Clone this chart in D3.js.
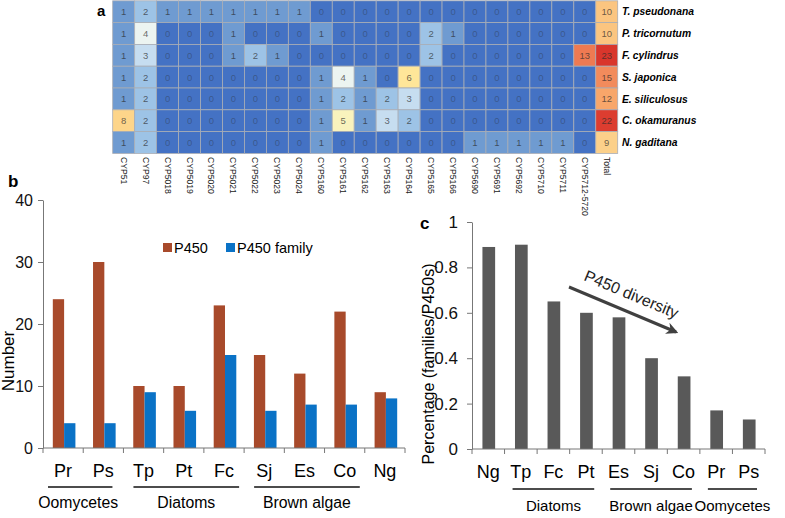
<!DOCTYPE html>
<html><head><meta charset="utf-8">
<script src="https://cdnjs.cloudflare.com/ajax/libs/d3/7.8.5/d3.min.js"></script>
<style>
body{margin:0;background:#fff;}
svg{font-family:"Liberation Sans",Arial,sans-serif;display:block;}
</style></head><body>
<svg id="c" width="785" height="518"></svg>
<script>
// ---------- Panel a data ----------
const cypFamilies = ["CYP51","CYP97","CYP5018","CYP5019","CYP5020","CYP5021","CYP5022","CYP5023","CYP5024","CYP5160","CYP5161","CYP5162","CYP5163","CYP5164","CYP5165","CYP5166","CYP5690","CYP5691","CYP5692","CYP5710","CYP5711","CYP5712-5720","Total"];
const species = ["T. pseudonana","P. tricornutum","F. cylindrus","S. japonica","E. siliculosus","C. okamuranus","N. gaditana"];
const tPseudonana  = [1,2,1,1,1,1,1,1,1,0,0,0,0,0,0,0,0,0,0,0,0,0,10];
const pTricornutum = [1,4,0,0,0,1,0,0,0,1,0,0,0,0,2,1,0,0,0,0,0,0,10];
const fCylindrus   = [1,3,0,0,0,1,2,1,0,0,0,0,0,0,2,0,0,0,0,0,0,13,23];
const sJaponica    = [1,2,0,0,0,0,0,0,0,1,4,1,0,6,0,0,0,0,0,0,0,0,15];
const eSiliculosus = [1,2,0,0,0,0,0,0,0,1,2,1,2,3,0,0,0,0,0,0,0,0,12];
const cOkamuranus  = [8,2,0,0,0,0,0,0,0,1,5,1,3,2,0,0,0,0,0,0,0,0,22];
const nGaditana    = [1,2,0,0,0,0,0,0,0,1,0,0,0,0,0,0,1,1,1,1,1,0,9];
const heatRows = [tPseudonana,pTricornutum,fCylindrus,sJaponica,eSiliculosus,cOkamuranus,nGaditana];

// ---------- Panel b data ----------
const bCategories = ["Pr","Ps","Tp","Pt","Fc","Sj","Es","Co","Ng"];
const p450Counts   = [24,30,10,10,23,15,12,22,9];
const familyCounts = [4,4,9,6,15,6,7,7,8];
const bSeries = ["P450","P450 family"];
const bTicks = [0,10,20,30,40];
const bGroups = [{name:"Oomycetes",from:"Pr",to:"Ps"},{name:"Diatoms",from:"Tp",to:"Fc"},{name:"Brown algae",from:"Sj",to:"Co"}];

// ---------- Panel c data ----------
const cCategories = ["Ng","Tp","Fc","Pt","Es","Sj","Co","Pr","Ps"];
const diversity = [0.89,0.90,0.65,0.60,0.58,0.40,0.32,0.17,0.13];
const cTicks = [0,0.2,0.4,0.6,0.8,1];
const cGroups = [{name:"Diatoms",from:"Tp",to:"Pt"},{name:"Brown algae",from:"Es",to:"Co"},{name:"Oomycetes",from:"Pr",to:"Ps"}];

const svg = d3.select("#c");

// ================= Panel a: heatmap =================
const hx = d3.scaleBand().domain(cypFamilies).range([112.7,617.7]);
const hy = d3.scaleBand().domain(species).range([0.8,153.4]);
const heatColor = d3.scaleLinear()
  .domain([0,1,2,3,4,5,6,8,9,10,12,13,15,22,23])
  .range(["#4472c4","#6f9bd1","#9dc3e6","#c6ddf0","#ecf4f1","#f9f3bd","#ffe699","#fdd58a","#fcd08a","#fbc580","#f8a66a","#ee7a52","#f28b5c","#dc3d30","#d9362c"]);
const cells = [];
species.forEach((s,i)=>cypFamilies.forEach((c,j)=>cells.push({s,c,v:heatRows[i][j]})));
const ga = svg.append("g");
ga.selectAll("rect").data(cells).join("rect")
  .attr("x",d=>hx(d.c)).attr("y",d=>hy(d.s))
  .attr("width",hx.bandwidth()).attr("height",hy.bandwidth())
  .attr("fill",d=>heatColor(d.v)).attr("stroke","#a9adb5").attr("stroke-width",0.8);
ga.selectAll("text.v").data(cells).join("text").attr("class","v")
  .attr("x",d=>hx(d.c)+hx.bandwidth()/2).attr("y",d=>hy(d.s)+hy.bandwidth()/2)
  .attr("dy","0.36em").attr("text-anchor","middle").attr("font-size",9.5)
  .attr("fill","#2a2a2a").attr("fill-opacity",d=>d.v===0?0.38:0.7)
  .text(d=>d.v);
ga.selectAll("text.sp").data(species).join("text").attr("class","sp")
  .attr("x",622).attr("y",d=>hy(d)+hy.bandwidth()/2).attr("dy","0.36em")
  .attr("font-size",10.3).attr("font-weight","bold").attr("font-style","italic")
  .text(d=>d);
ga.selectAll("text.cx").data(cypFamilies).join("text").attr("class","cx")
  .attr("transform",d=>`translate(${hx(d)+hx.bandwidth()/2},157) rotate(90)`)
  .attr("dy","0.35em").attr("font-size",8.6).attr("fill","#222")
  .text(d=>d);
svg.append("text").attr("x",97).attr("y",16).attr("font-size",15).attr("font-weight","bold").text("a");

// ================= Panel b =================
const bx = d3.scaleBand().domain(bCategories).range([43,405]);
const bx1 = d3.scaleBand().domain(bSeries).range([1,bx.bandwidth()+1]).paddingOuter(0.78);
const by = d3.scaleLinear().domain([0,40]).range([448,200]);
const bColor = d3.scaleOrdinal().domain(bSeries).range(["#a84a2b","#0a72c6"]);
const gb = svg.append("g");
const bData = [];
bCategories.forEach((c,i)=>{bData.push({c,s:"P450",v:p450Counts[i]});bData.push({c,s:"P450 family",v:familyCounts[i]});});
gb.selectAll("rect").data(bData).join("rect")
  .attr("x",d=>bx(d.c)+bx1(d.s)).attr("width",bx1.bandwidth())
  .attr("y",d=>by(d.v)).attr("height",d=>by(0)-by(d.v))
  .attr("fill",d=>bColor(d.s));
const byAxis = gb.append("g").attr("transform","translate(43,0)")
  .call(d3.axisLeft(by).tickValues(bTicks).tickSize(5).tickPadding(5).tickSizeOuter(0));
byAxis.selectAll("text").attr("font-size",16).attr("fill","#111").attr("font-family","Liberation Sans, Arial, sans-serif");
byAxis.selectAll("line,path").attr("stroke","#777");
gb.append("line").attr("x1",43).attr("x2",405).attr("y1",448).attr("y2",448).attr("stroke","#777");
const bBounds = bCategories.map(c=>bx(c)).concat([bx.range()[1]]);
gb.selectAll("line.bt").data(bBounds).join("line").attr("class","bt")
  .attr("x1",d=>d).attr("x2",d=>d).attr("y1",448).attr("y2",453).attr("stroke","#777");
gb.selectAll("text.bl").data(bCategories).join("text").attr("class","bl")
  .attr("x",d=>bx(d)+bx.bandwidth()/2).attr("y",477).attr("text-anchor","middle")
  .attr("font-size",18).text(d=>d);
bGroups.forEach((g,i)=>{
  const x1 = bx(g.from)+(i===0?5:10), x2 = bx(g.to)+bx.bandwidth()-(i===0?11:5);
  gb.append("line").attr("x1",x1).attr("x2",x2).attr("y1",487).attr("y2",487).attr("stroke","#111").attr("stroke-width",1.5);
  gb.append("text").attr("x",(x1+x2)/2-(i===0?2:0)).attr("y",508).attr("text-anchor","middle").attr("font-size",15.8).text(g.name);
});
gb.append("text").attr("transform","translate(14,361) rotate(-90)").attr("text-anchor","middle").attr("font-size",17).text("Number");
svg.append("text").attr("x",8).attr("y",187).attr("font-size",17).attr("font-weight","bold").text("b");
const legX = [163,226];
bSeries.forEach((s,i)=>{
  gb.append("rect").attr("x",legX[i]).attr("y",243).attr("width",9).attr("height",9).attr("fill",bColor(s));
  gb.append("text").attr("x",legX[i]+11).attr("y",252.5).attr("font-size",14.5).text(s);
});

// ================= Panel c =================
const cx = d3.scaleBand().domain(cCategories).range([472,765]);
const cy = d3.scaleLinear().domain([0,1]).range([449,222]);
const gc = svg.append("g");
const barW = 12.7;
gc.selectAll("rect").data(cCategories).join("rect")
  .attr("x",d=>cx(d)+cx.bandwidth()/2-barW/2+0.5).attr("width",barW)
  .attr("y",(d,i)=>cy(diversity[i])).attr("height",(d,i)=>cy(0)-cy(diversity[i]))
  .attr("fill","#595959");
const cyAxis = gc.append("g").attr("transform","translate(472,0)")
  .call(d3.axisLeft(cy).tickValues(cTicks).tickFormat(d3.format("~g")).tickSize(5).tickPadding(9).tickSizeOuter(0));
cyAxis.selectAll("text").attr("font-size",17).attr("fill","#111").attr("font-family","Liberation Sans, Arial, sans-serif");
cyAxis.selectAll("line,path").attr("stroke","#777");
gc.append("line").attr("x1",472).attr("x2",765).attr("y1",449).attr("y2",449).attr("stroke","#777");
const cBounds = cCategories.map(c=>cx(c)).concat([cx.range()[1]]);
gc.selectAll("line.ct").data(cBounds).join("line").attr("class","ct")
  .attr("x1",d=>d).attr("x2",d=>d).attr("y1",449).attr("y2",454).attr("stroke","#777");
gc.selectAll("text.cl").data(cCategories).join("text").attr("class","cl")
  .attr("x",d=>cx(d)+cx.bandwidth()/2).attr("y",478).attr("text-anchor","middle")
  .attr("font-size",18).text(d=>d);
cGroups.forEach(g=>{
  const x1 = cx(g.from)+8, x2 = cx(g.to)+cx.bandwidth()-8;
  gc.append("line").attr("x1",x1).attr("x2",x2).attr("y1",489).attr("y2",489).attr("stroke","#111").attr("stroke-width",1.5);
  const t = gc.append("text").attr("y",511).attr("text-anchor","middle").attr("font-size",15).text(g.name);
  const w = t.node().getComputedTextLength();
  t.attr("x",Math.min((x1+x2)/2, 783-w/2));
});
gc.append("text").attr("transform","translate(434,364) rotate(-90)").attr("text-anchor","middle").attr("font-size",16).text("Percentage (families/P450s)");
svg.append("text").attr("x",420).attr("y",229).attr("font-size",17).attr("font-weight","bold").text("c");
const defs = svg.append("defs");
defs.append("marker").attr("id","ah").attr("viewBox","0 0 10 10").attr("refX",8).attr("refY",5)
  .attr("markerWidth",4).attr("markerHeight",4).attr("orient","auto")
  .append("path").attr("d","M0,0 L10,5 L0,10 L3,5 Z").attr("fill","#404040");
gc.append("line").attr("x1",569).attr("y1",287).attr("x2",676).attr("y2",332)
  .attr("stroke","#404040").attr("stroke-width",3).attr("marker-end","url(#ah)");
gc.append("text").attr("transform","translate(583,280) rotate(22.7)").attr("font-size",16).attr("fill","#222").text("P450 diversity");
</script></body></html>
